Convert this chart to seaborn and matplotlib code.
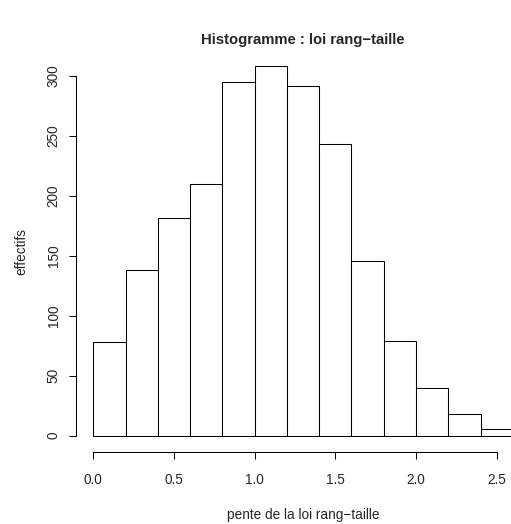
import numpy as np
import pandas as pd
import matplotlib
matplotlib.use("Agg")
import matplotlib.pyplot as plt
import seaborn as sns

# histogram counts (bins of width 0.2 from 0 to 2.6)
bin_edges = [0.0, 0.2, 0.4, 0.6, 0.8, 1.0, 1.2, 1.4, 1.6, 1.8, 2.0, 2.2, 2.4, 2.6]
counts = [78, 138, 181, 210, 295, 308, 291, 243, 146, 79, 40, 18, 6]
x_ticks = [0.0, 0.5, 1.0, 1.5, 2.0, 2.5]
x_tick_labels = ["0.0", "0.5", "1.0", "1.5", "2.0", "2.5"]
y_ticks = [0, 50, 100, 150, 200, 250, 300]

centers = [(a + b) / 2 for a, b in zip(bin_edges[:-1], bin_edges[1:])]
df = pd.DataFrame({"pente": centers, "n": counts})

sns.set_style("white")
plt.rcParams["font.family"] = ["Liberation Sans", "DejaVu Sans"]

fig = plt.figure(figsize=(5.11, 5.24), dpi=100)
# plot region extends past the right border, as in the original
ax = fig.add_axes([76 / 511, (524 - 451.7) / 524, (529.6 - 76) / 511, (451.7 - 51.3) / 524])

sns.histplot(data=df, x="pente", weights="n", bins=bin_edges, ax=ax,
             color="white", edgecolor="black", linewidth=0.75, alpha=1)

ax.set_xlim(-0.107, 2.704)
ax.set_ylim(-13.3, 320.3)

for side in ["top", "right"]:
    ax.spines[side].set_visible(False)
ax.spines["left"].set_bounds(0, 300)
ax.spines["bottom"].set_bounds(0, 2.5)
for side in ["left", "bottom"]:
    ax.spines[side].set_color("black")
    ax.spines[side].set_linewidth(0.75)

ax.set_xticks(x_ticks)
ax.set_xticklabels(x_tick_labels)
ax.set_yticks(y_ticks)
ax.set_yticklabels([str(v) for v in y_ticks], rotation=90, va="center")
ax.tick_params(axis="both", direction="out", length=5, width=0.75, color="black",
               labelsize=9.8, bottom=True, left=True)
ax.tick_params(axis="x", pad=10.5)
ax.tick_params(axis="y", pad=6)

ax.set_xlabel("pente de la loi rang\u2212taille", fontsize=9.8, labelpad=15)
ax.set_ylabel("effectifs", fontsize=9.8, labelpad=13)
fig.text(302.8 / 511, 1 - 40 / 524, "Histogramme : loi rang\u2212taille",
         ha="center", va="center", fontsize=10.7, fontweight="bold")

fig.savefig("out.png", dpi=100)
